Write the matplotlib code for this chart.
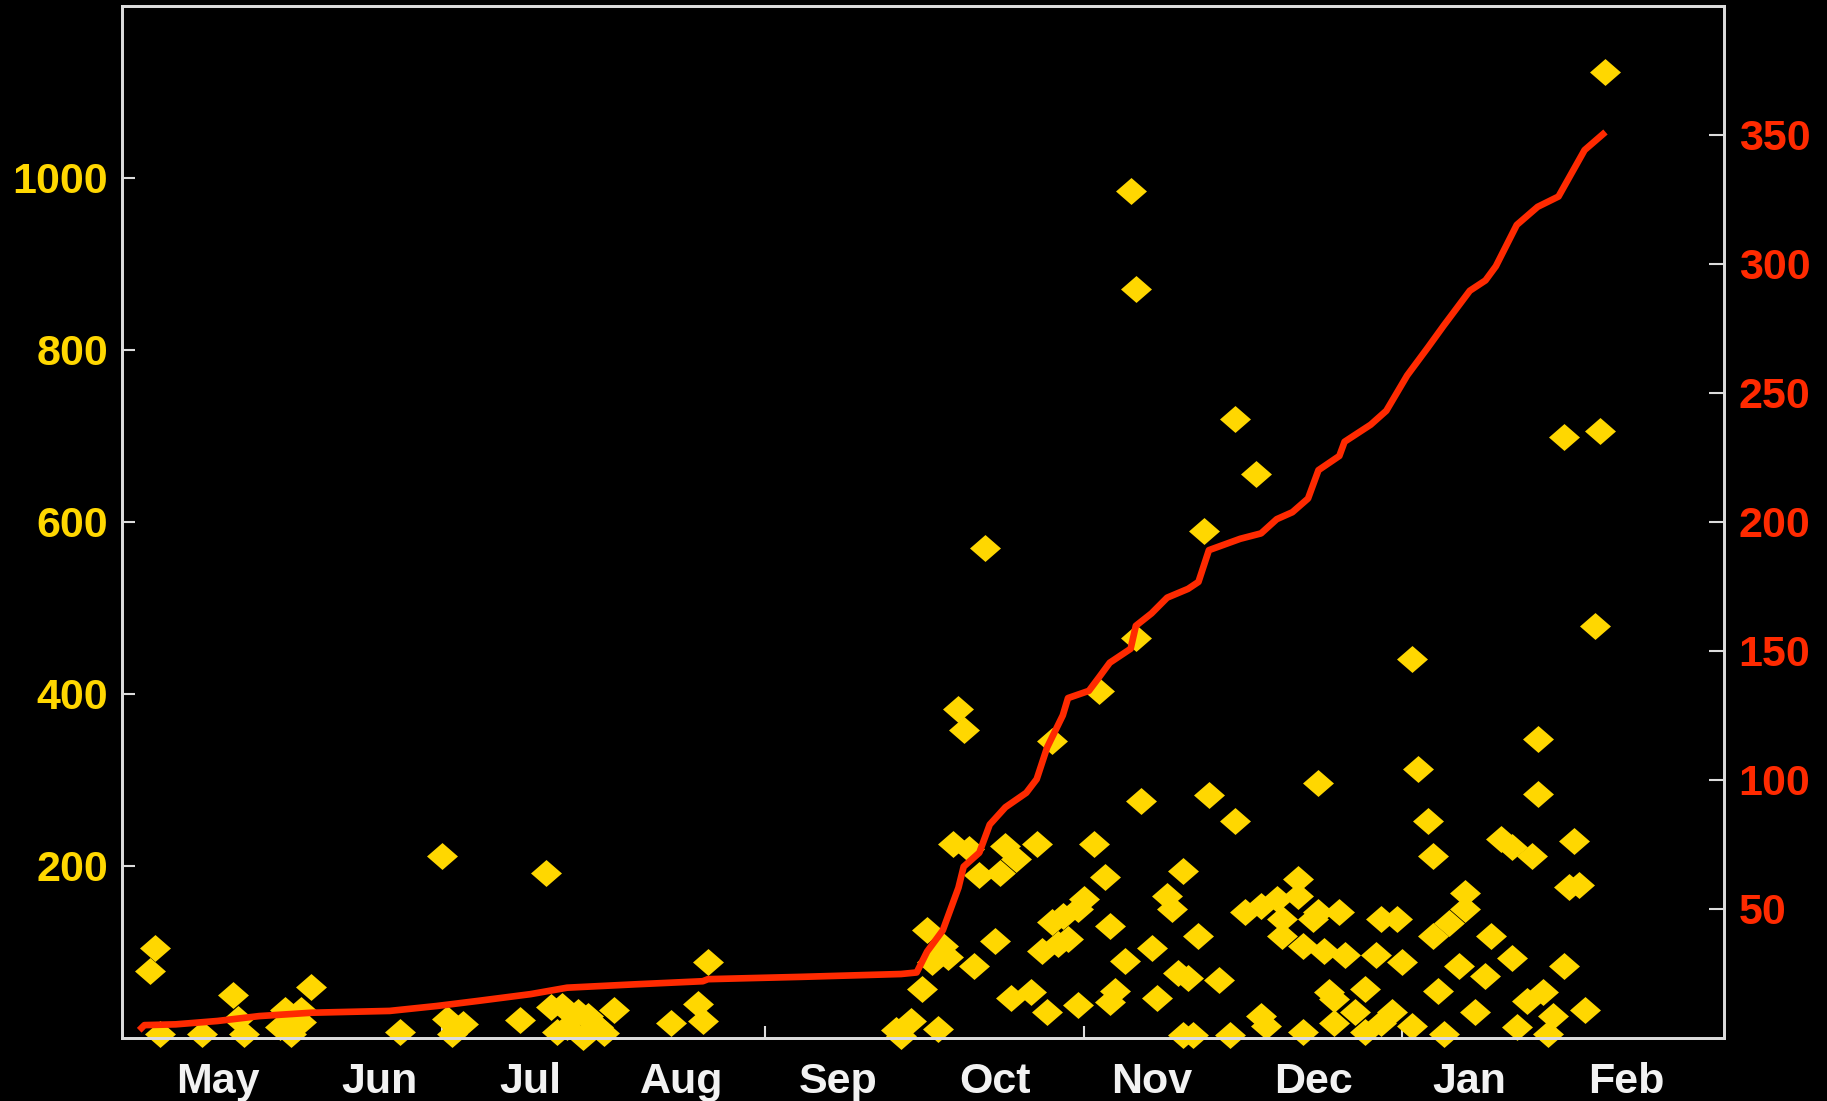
import matplotlib
matplotlib.use("Agg")
import matplotlib.pyplot as plt
import pandas as pd

plt.rcParams['font.family'] = ['Liberation Sans', 'DejaVu Sans']
plt.rcParams['font.weight'] = 'bold'

# daily values (left axis, yellow diamonds)
point_dates = [
    '2009-05-06', '2009-05-07', '2009-05-08', '2009-05-16', '2009-05-22', '2009-05-23',
    '2009-05-24', '2009-05-31', '2009-06-01', '2009-06-02', '2009-06-04', '2009-06-04',
    '2009-06-06', '2009-06-23', '2009-07-01', '2009-07-02', '2009-07-03', '2009-07-05',
    '2009-07-16', '2009-07-21', '2009-07-22', '2009-07-23', '2009-07-24', '2009-07-25',
    '2009-07-27', '2009-07-28', '2009-07-29', '2009-07-30', '2009-07-31', '2009-08-01',
    '2009-08-03', '2009-08-14', '2009-08-19', '2009-08-20', '2009-08-21',
    '2009-09-26', '2009-09-27', '2009-09-29', '2009-10-01', '2009-10-02', '2009-10-03',
    '2009-10-04', '2009-10-05', '2009-10-06', '2009-10-07', '2009-10-08', '2009-10-09',
    '2009-10-10', '2009-10-11', '2009-10-12', '2009-10-13', '2009-10-15', '2009-10-16',
    '2009-10-17', '2009-10-18', '2009-10-19', '2009-10-22', '2009-10-23', '2009-10-24',
    '2009-10-25', '2009-10-26', '2009-10-26', '2009-10-27', '2009-10-28', '2009-10-29',
    '2009-10-31', '2009-10-31', '2009-11-01', '2009-11-03', '2009-11-04', '2009-11-05',
    '2009-11-06', '2009-11-06', '2009-11-07', '2009-11-09', '2009-11-10', '2009-11-11',
    '2009-11-11', '2009-11-12', '2009-11-14', '2009-11-15', '2009-11-17', '2009-11-18',
    '2009-11-19', '2009-11-20', '2009-11-21', '2009-11-20', '2009-11-22', '2009-11-23',
    '2009-11-24', '2009-11-25', '2009-11-27', '2009-11-29', '2009-11-30', '2009-11-30',
    '2009-12-02', '2009-12-04', '2009-12-05', '2009-12-05', '2009-12-06', '2009-12-08',
    '2009-12-09', '2009-12-09', '2009-12-12', '2009-12-12', '2009-12-13', '2009-12-13',
    '2009-12-15', '2009-12-16', '2009-12-16', '2009-12-17', '2009-12-18', '2009-12-19',
    '2009-12-19', '2009-12-20', '2009-12-21', '2009-12-23', '2009-12-25', '2009-12-25',
    '2009-12-27', '2009-12-28', '2009-12-28', '2009-12-30', '2009-12-31', '2010-01-01',
    '2010-01-03', '2010-01-03', '2010-01-04', '2010-01-06', '2010-01-07', '2010-01-07',
    '2010-01-08', '2010-01-09', '2010-01-10', '2010-01-12', '2010-01-13', '2010-01-13',
    '2010-01-15', '2010-01-17', '2010-01-18', '2010-01-20', '2010-01-22', '2010-01-22',
    '2010-01-23', '2010-01-25', '2010-01-26', '2010-01-27', '2010-01-27', '2010-01-28',
    '2010-01-29', '2010-01-30', '2010-02-01', '2010-02-01', '2010-02-02', '2010-02-03',
    '2010-02-04', '2010-02-05', '2010-02-07', '2010-02-08', '2010-02-09',
]
point_values = [
    78, 105, 5, 5, 50, 22,
    5, 13, 32, 5, 32, 19,
    59, 7, 212, 22, 5, 16,
    21, 192, 36, 7, 37, 13,
    30, 1, 26, 17, 13, 6,
    33, 18, 39, 20, 88,
    9, 2, 20, 57, 125, 88,
    10, 107, 94, 225, 382, 358,
    220, 84, 190, 570, 113, 192,
    223, 47, 208, 53, 226, 101,
    30, 345, 135, 109, 142, 115,
    150, 38, 161, 226, 403, 187,
    130, 42, 55, 90, 984, 465,
    871, 276, 105, 47, 165, 150,
    76, 194, 70, 3, 3, 119,
    589, 282, 68, 3, 720, 252,
    146, 656, 26, 154, 14, 161,
    138, 119, 185, 165, 7, 107,
    138, 296, 146, 101, 53, 45,
    18, 146, 96, 30, 57, 7,
    96, 138, 18, 30, 138, 88,
    14, 441, 313, 252, 212, 119,
    55, 5, 134, 84, 169, 150,
    30, 72, 119, 231, 222, 93,
    13, 43, 212, 284, 348, 53,
    5, 26, 84, 699, 175, 229,
    178, 32, 479, 705, 1123,
]

# running total (right axis, red line)
total_dates = [
    '2009-05-04', '2009-05-05', '2009-05-11', '2009-05-19', '2009-05-27', '2009-06-06',
    '2009-06-21', '2009-06-30', '2009-07-08', '2009-07-18', '2009-07-25', '2009-08-07',
    '2009-08-20', '2009-08-21', '2009-09-08', '2009-09-27', '2009-09-30', '2009-10-02',
    '2009-10-05', '2009-10-08', '2009-10-09', '2009-10-12', '2009-10-14', '2009-10-17',
    '2009-10-21', '2009-10-23', '2009-10-25', '2009-10-28', '2009-10-29', '2009-11-02',
    '2009-11-04', '2009-11-06', '2009-11-10', '2009-11-11', '2009-11-14', '2009-11-17',
    '2009-11-21', '2009-11-23', '2009-11-25', '2009-12-01', '2009-12-05', '2009-12-08',
    '2009-12-11', '2009-12-14', '2009-12-16', '2009-12-20', '2009-12-21', '2009-12-26',
    '2009-12-29', '2010-01-02', '2010-01-06', '2010-01-09', '2010-01-14', '2010-01-17',
    '2010-01-19', '2010-01-23', '2010-01-27', '2010-01-31', '2010-02-05', '2010-02-09',
]
total_values = [
    3, 5, 5.3, 6.6, 8.5, 9.8,
    10.5, 12.4, 14.4, 17, 19.5, 20.8,
    22, 22.8, 23.7, 24.8, 25.4, 33.5,
    41.7, 58.2, 66.4, 71.8, 82.7, 89.4,
    95, 100.3, 112.6, 125, 131.7, 134.5,
    139.9, 145.4, 150.8, 159.7, 164.5, 170.6,
    174, 176.7, 189, 193.4, 195.5, 201,
    203.7, 209, 220, 225.5, 231, 237.6,
    243, 256.7, 267.6, 276, 289.5, 293.5,
    299, 315, 322, 326, 344, 351,
]

month_labels = ['May', 'Jun', 'Jul', 'Aug', 'Sep', 'Oct', 'Nov', 'Dec', 'Jan', 'Feb']
label_dates = ['2009-05-19', '2009-06-19', '2009-07-18', '2009-08-16', '2009-09-15',
               '2009-10-15', '2009-11-14', '2009-12-15', '2010-01-14', '2010-02-13']
tick_dates = ['2009-07-01', '2009-09-01', '2009-11-01', '2010-01-01']
left_ticks = [200, 400, 600, 800, 1000]
right_ticks = [50, 100, 150, 200, 250, 300, 350]

yellow = '#ffd700'
red = '#ff2a00'
grey = '#dcdcdc'

fig = plt.figure(figsize=(18.27, 11.01), dpi=100, facecolor='black')
ax = fig.add_axes([0.0668, 0.0572, 0.8768, 0.9378])
ax.set_facecolor('black')

diamond = [(0, 1), (1.15, 0), (0, -1), (-1.15, 0), (0, 1)]
ax.plot(pd.to_datetime(point_dates), point_values, ls='none', marker=diamond,
        ms=22.3, mfc=yellow, mec='none', clip_on=False, zorder=2)

ax2 = ax.twinx()
ax2.plot(pd.to_datetime(total_dates), total_values, color=red, lw=4.8,
         solid_capstyle='butt', zorder=3)

ax.set_xlim(pd.Timestamp('2009-04-30 17:00'), pd.Timestamp('2010-03-03 17:00'))
ax.set_ylim(0, 1200)
ax2.set_ylim(0, 400)

ax.set_xticks(pd.to_datetime(tick_dates))
ax.set_xticklabels([])
ax.set_xticks(pd.to_datetime(label_dates), minor=True)
ax.set_xticklabels(month_labels, minor=True)
ax.set_yticks(left_ticks)
ax2.set_yticks(right_ticks)

ax.tick_params(axis='x', which='major', direction='in', length=8.6, width=1.5, color=grey)
ax.tick_params(axis='x', which='minor', length=0, labelsize=31, labelcolor='#f2f2f2', pad=17)
ax.tick_params(axis='y', direction='in', length=9.5, width=1.5, color=grey,
               labelcolor=yellow, labelsize=31, pad=10)
ax2.tick_params(axis='y', direction='in', length=10.5, width=1.5, color=grey,
                labelcolor=red, labelsize=31, pad=10.5)

for a in (ax, ax2):
    for s in a.spines.values():
        s.set_color(grey)
        s.set_linewidth(2)

fig.savefig('out.png', dpi=100, facecolor='black')
